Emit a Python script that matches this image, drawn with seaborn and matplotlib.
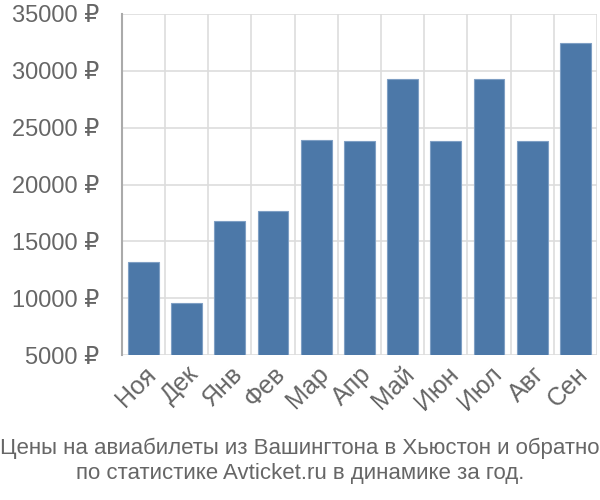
import matplotlib
matplotlib.use("Agg")
import matplotlib.pyplot as plt
import seaborn as sns
import pandas as pd
import numpy as np
from matplotlib.ticker import FuncFormatter, FixedLocator

months = ["Ноя", "Дек", "Янв", "Фев", "Мар", "Апр", "Май", "Июн", "Июл", "Авг", "Сен"]
prices = [13180, 9580, 16790, 17670, 23900, 23830, 29270, 23830, 29270, 23830, 32420]
yticks = [5000, 10000, 15000, 20000, 25000, 30000, 35000]
title = "Цены на авиабилеты из Вашингтона в Хьюстон и обратно\nпо статистике Avticket.ru в динамике за год."

sns.set_style("white")
plt.rcParams['font.family'] = ['Liberation Sans', 'DejaVu Sans']

df = pd.DataFrame({"month": months, "price": prices})

fig = plt.figure(figsize=(6, 5), dpi=100)
ax = fig.add_axes([0.203, 0.29, 0.792, 0.682])

sns.barplot(data=df, x="month", y="price", color="#4c78a8", width=0.71,
            edgecolor="#7f9fc4", linewidth=0.8, saturation=1, ax=ax, zorder=3)

ax.set_ylim(5000, 35000)
ax.set_xlim(-0.5, len(months) - 0.5)
ax.set_yticks(yticks)
ax.yaxis.set_major_formatter(FuncFormatter(lambda v, p: f"{int(v)} ₽"))
ax.set_xticks(range(len(months)))
ax.set_xticklabels(months, rotation=45, ha="right", rotation_mode="anchor")
ax.xaxis.set_minor_locator(FixedLocator(np.arange(-0.5, len(months), 1.0)))

ax.grid(True, axis="y", which="major", color="#dddddd", linewidth=1.2, zorder=0)
ax.grid(True, axis="x", which="minor", color="#dddddd", linewidth=1.2, zorder=0)
ax.set_axisbelow(True)

ax.tick_params(axis="y", which="major", length=14, color="#dddddd", width=1.2,
               labelsize=17, labelcolor="#666666", pad=2)
ax.tick_params(axis="x", which="major", length=0, labelsize=18, labelcolor="#666666", pad=5)
ax.tick_params(axis="x", which="minor", length=14, color="#dddddd", width=1.2)

for s in ["top", "right", "bottom"]:
    ax.spines[s].set_visible(False)
ax.spines["left"].set_color("#aaaaaa")
ax.spines["left"].set_linewidth(1.5)
ax.set_xlabel("")
ax.set_ylabel("")

fig.text(0.5, 0.078, title, ha="center", va="center", fontsize=16,
         color="#666666", linespacing=1.25)

fig.savefig("out.png", dpi=100)
